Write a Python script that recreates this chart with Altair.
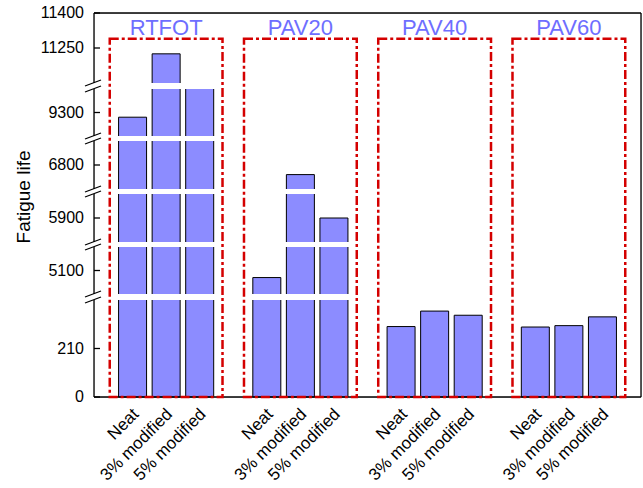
import altair as alt
import pandas as pd

# ---- data -------------------------------------------------------------
groups = ["RTFOT", "PAV20", "PAV40", "PAV60"]
modifiers = ["Neat", "3% modified", "5% modified"]
rtfot = [9280, 11225, 10200]
pav20 = [5070, 6760, 5900]
pav40 = [305, 372, 354]
pav60 = [303, 309, 347]
y_ticks = [0, 210, 5100, 5900, 6800, 9300, 11250, 11400]
y_title = "Fatigue life"

# kept value ranges of the broken y axis
seg_lo = [0, 5000, 5800, 6700, 9200, 11100]
seg_hi = [420, 5200, 6000, 6900, 9400, 11400]
box_top = 11290

# ---- layout / style ---------------------------------------------------
W, H = 547, 384
seg_px = [384, 287, 281, 234, 229, 181, 176, 128, 123, 76, 70, 0]
FONT = "Liberation Sans"
BAR = "#8c8cff"
RED = "#d40000"
LABEL_BLUE = "#6e6eff"

dom = []
for lo, hi in zip(seg_lo, seg_hi):
    dom += [lo, hi]

yscale = alt.Scale(domain=dom, range=seg_px, zero=False, nice=False)
xscale = alt.Scale(domain=[0, 16], nice=False, zero=False)

all_vals = [rtfot, pav20, pav40, pav60]
rows = []
for gi, g in enumerate(groups):
    for mi, m in enumerate(modifiers):
        rows.append({"gi": gi, "mi": mi, "group": g, "mod": m, "value": all_vals[gi][mi]})
bars_df = pd.DataFrame(rows)
grp_df = pd.DataFrame({"gi": list(range(len(groups))), "group": groups})
gap_df = pd.DataFrame({"lo": seg_hi[:-1], "hi": seg_lo[1:]})
seg_df = pd.DataFrame({"lo": seg_lo, "hi": seg_hi})
edge_df = pd.DataFrame({"e": seg_hi[:-1] + seg_lo[1:]})
tick_df = pd.DataFrame({"t": y_ticks, "lab": [str(t) for t in y_ticks]})
one = pd.DataFrame({"title": [y_title]})

bars = alt.Chart(bars_df).transform_calculate(
    pos="1 + 4*datum.gi + datum.mi"
).mark_bar(size=28, color=BAR, stroke="black", strokeWidth=1).encode(
    x=alt.X("pos:Q", scale=xscale, axis=None),
    y=alt.Y("value:Q", scale=yscale, axis=None),
    y2=alt.datum(0),
)

gaps = alt.Chart(gap_df).mark_rect(color="white").encode(
    x=alt.value(0), x2=alt.value(W),
    y=alt.Y("lo:Q", scale=yscale, axis=None), y2="hi:Q",
)

boxes = alt.Chart(grp_df).transform_calculate(
    l="2 + 4*datum.gi - 1.68", r="2 + 4*datum.gi + 1.68"
).mark_rect(fill="transparent", stroke=RED, strokeWidth=2.5,
            strokeDash=[9, 3, 3, 3]).encode(
    x=alt.X("l:Q", scale=xscale, axis=None), x2="r:Q",
    y=alt.datum(0), y2=alt.datum(box_top),
)

axis_segs = alt.Chart(seg_df).mark_rule(color="black", strokeWidth=1.3).encode(
    x=alt.value(0), y=alt.Y("lo:Q", scale=yscale, axis=None), y2="hi:Q",
)

breaks = alt.Chart(edge_df).mark_rule(color="black", strokeWidth=1.3,
                                      yOffset=3, y2Offset=-3).encode(
    x=alt.value(-9), x2=alt.value(7),
    y=alt.Y("e:Q", scale=yscale, axis=None), y2="e:Q",
)

ticks = alt.Chart(tick_df).mark_rule(color="black", strokeWidth=1.3).encode(
    x=alt.value(0), x2=alt.value(6),
    y=alt.Y("t:Q", scale=yscale, axis=None),
)

tick_labels = alt.Chart(tick_df).mark_text(
    align="right", baseline="middle", fontSize=16, font=FONT, color="black"
).encode(
    x=alt.value(-10), y=alt.Y("t:Q", scale=yscale, axis=None), text="lab:N",
)

title = alt.Chart(one).mark_text(
    angle=270, align="center", baseline="middle", fontSize=19, font=FONT, color="black"
).encode(x=alt.value(-70), y=alt.value(184), text="title:N")

frame_top = alt.Chart(one).mark_rule(color="black", strokeWidth=1.3).encode(
    x=alt.value(0), x2=alt.value(W), y=alt.value(0))
frame_bottom = alt.Chart(one).mark_rule(color="black", strokeWidth=1.5).encode(
    x=alt.value(0), x2=alt.value(W), y=alt.value(H))
frame_right = alt.Chart(one).mark_rule(color="black", strokeWidth=1.3).encode(
    x=alt.value(W), y=alt.value(0), y2=alt.value(H))

group_labels = alt.Chart(grp_df).transform_calculate(
    c="2 + 4*datum.gi"
).mark_text(fontSize=22, color=LABEL_BLUE, font=FONT, baseline="middle").encode(
    x=alt.X("c:Q", scale=xscale, axis=None), y=alt.value(15), text="group:N",
)

x_labels = alt.Chart(bars_df).transform_calculate(
    pos="1 + 4*datum.gi + datum.mi"
).mark_text(angle=315, align="right", baseline="middle", fontSize=17,
            font=FONT, color="black", dx=2, dy=3).encode(
    x=alt.X("pos:Q", scale=xscale, axis=None), y=alt.value(H + 14), text="mod:N",
)

chart = alt.layer(
    bars, gaps, axis_segs, breaks, ticks, tick_labels, title,
    frame_top, frame_bottom, frame_right, boxes, group_labels, x_labels,
).properties(
    width=W, height=H,
    autosize=alt.AutoSizeParams(type="none"),
    padding={"left": 94, "top": 13, "right": 2, "bottom": 91},
).configure_view(strokeWidth=0).configure(font=FONT)

chart.save("out.html", embed_options={"renderer": "svg", "actions": False})
